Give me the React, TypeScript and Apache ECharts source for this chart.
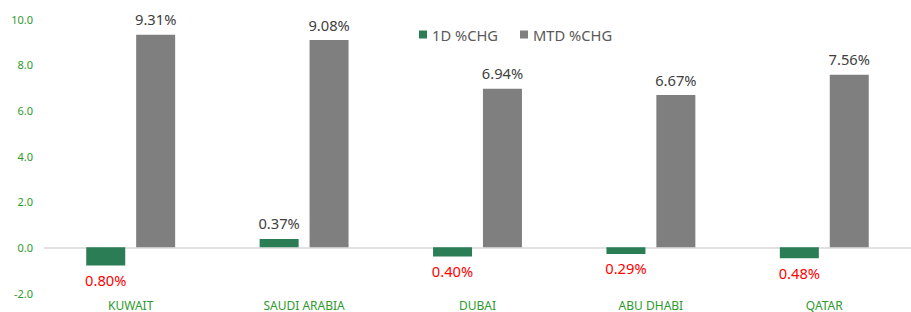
import React, { useEffect, useRef } from "react";
import * as echarts from "echarts";

const categories = ["KUWAIT", "SAUDI ARABIA", "DUBAI", "ABU DHABI", "QATAR"];
const oneDay = [-0.8, 0.37, -0.4, -0.29, -0.48];
const mtd = [9.31, 9.08, 6.94, 6.67, 7.56];
const seriesNames = ["1D %CHG", "MTD %CHG"];

const FONT = "'Noto Sans', sans-serif";

function makeData(values: number[]) {
  return values.map((v) => ({
    value: v,
    label: {
      position: v < 0 ? "bottom" : "top",
      distance: v < 0 ? 7 : 8,
      color: v < 0 ? "#ff0000" : "#404040",
    },
  }));
}

export default function App() {
  const ref = useRef<HTMLDivElement>(null);
  useEffect(() => {
    if (!ref.current) return;
    const chart = echarts.init(ref.current, null, { renderer: "svg" });
    const labelCommon = {
      show: true,
      fontSize: 14.7,
      fontFamily: FONT,
      formatter: (p: any) => Math.abs(p.value).toFixed(2) + "%",
    };
    chart.setOption({
      animation: false,
      textStyle: { fontFamily: FONT },
      legend: {
        left: 414,
        top: 22,
        icon: "rect",
        itemWidth: 8,
        itemHeight: 8,
        itemGap: 22,
        textStyle: { fontSize: 14.7, color: "#595959", fontFamily: FONT },
        data: seriesNames,
      },
      grid: { left: 44, top: 19, width: 873, bottom: 19, containLabel: false },
      xAxis: {
        type: "category",
        data: categories,
        axisLine: { show: false, onZero: false },
        axisTick: { show: false },
        axisLabel: { color: "#2e9a2e", fontSize: 12, margin: 6, fontFamily: FONT },
      },
      yAxis: {
        type: "value",
        min: -2,
        max: 10,
        interval: 2,
        splitLine: { show: false },
        axisLine: { show: false },
        axisTick: { show: false },
        axisLabel: {
          color: "#2e9a2e",
          fontSize: 11,
          margin: 11,
          fontFamily: FONT,
          formatter: (v: number) => v.toFixed(1),
        },
      },
      series: [
        {
          name: seriesNames[0],
          type: "bar",
          barWidth: 39,
          barGap: "28%",
          itemStyle: { color: "#2b7d56" },
          label: labelCommon,
          data: makeData(oneDay),
          markLine: {
            silent: true,
            symbol: "none",
            label: { show: false },
            lineStyle: { color: "#d9d9d9", type: "solid", width: 1.5 },
            data: [{ yAxis: 0 }],
            z: 1,
          },
        },
        {
          name: seriesNames[1],
          type: "bar",
          barWidth: 39,
          barGap: "28%",
          itemStyle: { color: "#7f7f7f" },
          label: labelCommon,
          data: makeData(mtd),
        },
      ],
    });
    return () => chart.dispose();
  }, []);
  return (
    <div
      ref={ref}
      style={{ position: "fixed", left: 0, top: 0, width: 911, height: 312, background: "#fff" }}
    />
  );
}
